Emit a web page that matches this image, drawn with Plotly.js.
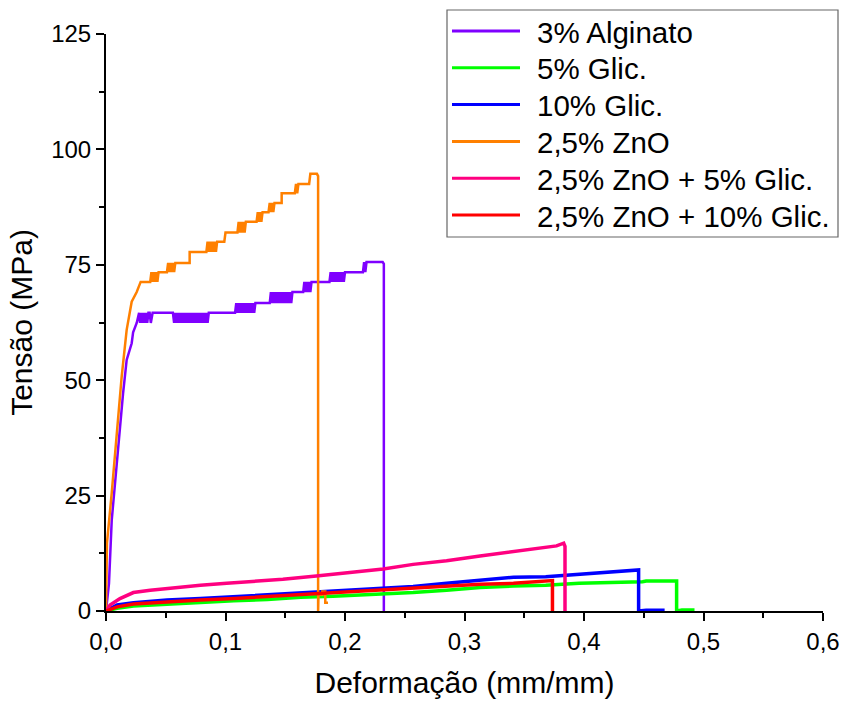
<!DOCTYPE html>
<html>
<head>
<meta charset="utf-8">
<script src="https://cdn.plot.ly/plotly-3.0.1.min.js"></script>
<style>
html,body{margin:0;padding:0;background:#fff;}
#chart{width:841px;height:702px;}
</style>
</head>
<body>
<div id="chart"></div>
<script>
// Series names (legend labels)
const seriesNames = ["3% Alginato", "5% Glic.", "10% Glic.", "2,5% ZnO", "2,5% ZnO + 5% Glic.", "2,5% ZnO + 10% Glic."];

// 3% Alginato (strain, stress)
const alginatoX = [0, 0.0025, 0.0048, 0.0075, 0.010, 0.0143, 0.0173, 0.0215, 0.0227, 0.0257, 0.0277,
  0.0285, 0.0295, 0.0305, 0.0315, 0.0325, 0.0335, 0.0345, 0.0355, 0.0365, 0.0375, 0.0385, 0.039,
  0.056, 0.057, 0.058, 0.059, 0.060, 0.061, 0.062, 0.063, 0.064, 0.065, 0.066, 0.067, 0.068, 0.069, 0.070, 0.071, 0.072, 0.073, 0.074, 0.075, 0.076, 0.077, 0.078, 0.079, 0.080, 0.081, 0.082, 0.083, 0.084, 0.085, 0.086, 0.087,
  0.108, 0.109, 0.110, 0.111, 0.112, 0.113, 0.114, 0.115, 0.116, 0.117, 0.118, 0.119, 0.120, 0.121, 0.122, 0.123, 0.124, 0.125, 0.126,
  0.137, 0.138, 0.139, 0.140, 0.141, 0.142, 0.143, 0.144, 0.145, 0.146, 0.147, 0.148, 0.149, 0.150, 0.151, 0.152, 0.153, 0.154, 0.155, 0.156,
  0.165, 0.166, 0.167, 0.168, 0.169, 0.170, 0.171, 0.172, 0.173,
  0.187, 0.188, 0.189, 0.190, 0.191, 0.192, 0.193, 0.194, 0.195, 0.196, 0.197, 0.198, 0.199, 0.200,
  0.215, 0.216, 0.217, 0.218, 0.219,
  0.2315, 0.2325, 0.2325];
const alginatoY = [0, 6, 19.7, 28, 35.5, 47.2, 54.4, 58, 60.4, 62.4, 64.6,
  62.4, 64.6, 62.4, 64.6, 62.4, 64.6, 62.4, 64.6, 64.6, 62.4, 64.6, 64.6,
  64.6, 62.4, 64.6, 62.4, 64.6, 62.4, 64.6, 62.4, 64.6, 62.4, 64.6, 62.4, 64.6, 62.4, 64.6, 62.4, 64.6, 62.4, 64.6, 62.4, 64.6, 62.4, 64.6, 62.4, 64.6, 62.4, 64.6, 62.4, 64.6, 62.4, 64.6, 64.6,
  64.6, 66.7, 64.6, 66.7, 64.6, 66.7, 64.6, 66.7, 64.6, 66.7, 64.6, 66.7, 64.6, 66.7, 64.6, 66.7, 64.6, 66.7, 66.7,
  66.7, 69.1, 66.7, 69.1, 66.7, 69.1, 66.7, 69.1, 66.7, 69.1, 66.7, 69.1, 66.7, 69.1, 66.7, 69.1, 66.7, 69.1, 66.7, 69.1,
  69.1, 71.3, 69.1, 71.3, 69.1, 71.3, 69.1, 71.3, 71.3,
  71.3, 73.4, 71.3, 73.4, 71.3, 73.4, 71.3, 73.4, 71.3, 73.4, 71.3, 73.4, 71.3, 73.4,
  73.4, 75.6, 73.4, 75.6, 75.6,
  75.6, 75.2, 0];

// 5% Glic.
const glic5X = [0, 0.0093, 0.023, 0.051, 0.079, 0.107, 0.135, 0.163, 0.19, 0.218, 0.246, 0.257, 0.285, 0.313, 0.341, 0.368, 0.396, 0.424, 0.449, 0.452, 0.474, 0.4775, 0.4775, 0.482, 0.491, 0.491];
const glic5Y = [0, 0.6, 1.1, 1.5, 1.8, 2.2, 2.5, 3.0, 3.2, 3.5, 3.8, 4.0, 4.5, 5.1, 5.4, 5.6, 6.0, 6.1, 6.35, 6.5, 6.5, 6.5, 0, 0.2, 0.2, 0];

// 10% Glic.
const glic10X = [0, 0.0093, 0.023, 0.051, 0.079, 0.107, 0.135, 0.163, 0.1905, 0.218, 0.246, 0.257, 0.285, 0.313, 0.341, 0.368, 0.396, 0.424, 0.443, 0.4457, 0.4457, 0.452, 0.466, 0.466];
const glic10Y = [0, 1.3, 1.8, 2.4, 2.7, 3.1, 3.5, 4.0, 4.3, 4.7, 5.1, 5.3, 6.0, 6.7, 7.3, 7.4, 8.0, 8.5, 8.9, 8.9, 0, 0.15, 0.15, 0];

// 2,5% ZnO
const znoX = [0, 0.0008, 0.0048, 0.009, 0.0131, 0.0173, 0.0215, 0.0257, 0.029,
  0.037, 0.038, 0.039, 0.040, 0.041, 0.042, 0.043, 0.044,
  0.051, 0.052, 0.053, 0.054, 0.055, 0.056, 0.057, 0.058, 0.059,
  0.070, 0.070,
  0.084, 0.085, 0.086, 0.087, 0.088, 0.089, 0.090, 0.091, 0.092, 0.093,
  0.099, 0.100, 0.101,
  0.110, 0.111, 0.112, 0.113, 0.114, 0.115, 0.116, 0.117, 0.118,
  0.126, 0.127, 0.128, 0.129, 0.130, 0.131,
  0.136, 0.137, 0.138, 0.139, 0.140, 0.141,
  0.147, 0.147,
  0.158, 0.159, 0.160, 0.161, 0.162,
  0.170, 0.171, 0.172,
  0.1765, 0.1775, 0.1775, 0.1778, 0.181, 0.181, 0.1835, 0.1835, 0.1858];
const znoY = [0, 14.7, 25.6, 37.7, 50.7, 60.9, 67, 69.1, 71.3,
  71.3, 73.4, 71.3, 73.4, 71.3, 73.4, 71.3, 73.4,
  73.4, 75.4, 73.4, 75.4, 73.4, 75.4, 73.4, 75.4, 75.4,
  75.4, 77.8,
  77.8, 80, 77.8, 80, 77.8, 80, 77.8, 80, 77.8, 80,
  80, 82, 82,
  82, 84.3, 82, 84.3, 82, 84.3, 82, 84.3, 84.3,
  84.3, 86.4, 84.3, 86.4, 84.3, 86.4,
  86.4, 88.4, 86.4, 88.4, 86.4, 88.4,
  88.4, 90.5,
  90.5, 92.5, 90.5, 92.5, 92.5,
  92.5, 94.7, 94.7,
  94.7, 94.2, 0, 3.5, 3.5, 4.2, 4.2, 1.8, 1.8];

// 2,5% ZnO + 5% Glic.
const zno5X = [0, 0.0034, 0.0117, 0.0229, 0.037, 0.051, 0.065, 0.079, 0.101, 0.12, 0.148, 0.176, 0.204, 0.232, 0.257, 0.285, 0.313, 0.341, 0.368, 0.377, 0.383, 0.3841, 0.3841];
const zno5Y = [0, 1.3, 2.7, 4.0, 4.5, 4.9, 5.3, 5.6, 6.0, 6.35, 6.9, 7.6, 8.3, 9.1, 10.1, 10.9, 11.9, 12.8, 13.8, 14.1, 14.7, 14.0, 0];

// 2,5% ZnO + 10% Glic.
const zno10X = [0, 0.0093, 0.023, 0.051, 0.079, 0.107, 0.135, 0.163, 0.19, 0.218, 0.246, 0.257, 0.285, 0.313, 0.341, 0.368, 0.373, 0.3736, 0.3736];
const zno10Y = [0, 0.9, 1.5, 2.0, 2.4, 2.7, 3.1, 3.6, 4.0, 4.3, 4.7, 4.9, 5.4, 5.8, 6.0, 6.35, 6.6, 6.6, 0];

const xTickVals = [0, 0.1, 0.2, 0.3, 0.4, 0.5, 0.6];
const yTickVals = [0, 25, 50, 75, 100, 125];

const colors = ["#7f00ff", "#00ff00", "#0000ff", "#ff8000", "#ff0080", "#ff0000"];
const widths = [2.5, 3.5, 3.5, 2.5, 3.5, 3.5];
const xs = [alginatoX, glic5X, glic10X, znoX, zno5X, zno10X];
const ys = [alginatoY, glic5Y, glic10Y, znoY, zno5Y, zno10Y];

const traces = seriesNames.map((n, i) => ({
  type: "scatter", mode: "lines", name: n, x: xs[i], y: ys[i],
  line: {color: colors[i], width: widths[i]}, showlegend: false
}));

// Legend box drawn in paper coordinates (plot area: left 106px, width 717px, bottom 611px, height 577px)
const PL = 106, PW = 717, PB = 611, PH = 577;
const px = v => (v - PL) / PW;
const py = v => (PB - v) / PH;
const legTop = 10, legBottom = 237, legLeft = 447, legRight = 838;
const rowY0 = 31, rowStep = 36.8;
const shapes = [{
  type: "rect", xref: "paper", yref: "paper",
  x0: px(legLeft), x1: px(legRight), y0: py(legBottom), y1: py(legTop),
  line: {color: "#666", width: 1.2}, fillcolor: "#fff", layer: "above"
}];
const annotations = [];
seriesNames.forEach((n, i) => {
  const yy = rowY0 + i * rowStep;
  shapes.push({
    type: "line", xref: "paper", yref: "paper",
    x0: px(452), x1: px(520), y0: py(yy), y1: py(yy),
    line: {color: colors[i], width: 3}, layer: "above"
  });
  annotations.push({
    xref: "paper", yref: "paper", x: px(535), y: py(yy + 1),
    xanchor: "left", yanchor: "middle", showarrow: false, text: n,
    font: {size: 29.5, family: "Arial, 'Liberation Sans', sans-serif", color: "#000"}
  });
});

const font = "Arial, 'Liberation Sans', sans-serif";
const layout = {
  width: 841, height: 702,
  margin: {l: 106, r: 18, t: 34, b: 91},
  paper_bgcolor: "#fff", plot_bgcolor: "#fff",
  separators: ",.",
  font: {family: font, color: "#000"},
  showlegend: false,
  shapes: shapes,
  annotations: annotations,
  xaxis: {
    range: [0, 0.6], tickvals: xTickVals, tickformat: ".1f",
    showgrid: false, zeroline: false, showline: true, linecolor: "#000", linewidth: 2,
    ticks: "outside", ticklen: 8, tickwidth: 2, tickcolor: "#000",
    tickfont: {size: 24, family: font},
    minor: {dtick: 0.05, tick0: 0, ticks: "outside", ticklen: 5, tickwidth: 2, tickcolor: "#000", showgrid: false},
    title: {text: "Deformação (mm/mm)", font: {size: 30, family: font}, standoff: 18},
    fixedrange: true
  },
  yaxis: {
    range: [0, 125], tickvals: yTickVals,
    showgrid: false, zeroline: false, showline: true, linecolor: "#000", linewidth: 2,
    ticks: "outside", ticklen: 8, tickwidth: 2, tickcolor: "#000",
    tickfont: {size: 24, family: font},
    minor: {dtick: 12.5, tick0: 0, ticks: "outside", ticklen: 5, tickwidth: 2, tickcolor: "#000", showgrid: false},
    title: {text: "Tensão (MPa)", font: {size: 30, family: font}, standoff: 10},
    fixedrange: true
  }
};

Plotly.newPlot("chart", traces, layout, {staticPlot: true, displayModeBar: false});
</script>
</body>
</html>
